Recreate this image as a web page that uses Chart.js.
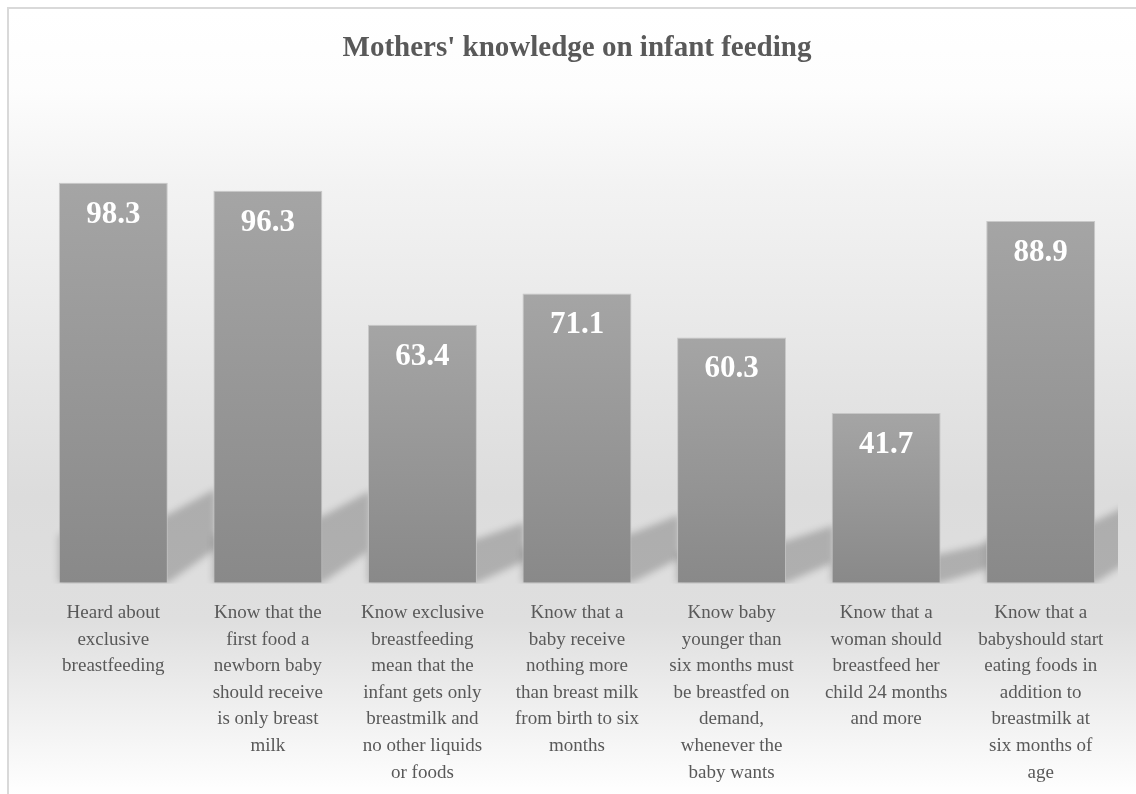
<!DOCTYPE html>
<html>
<head>
<meta charset="utf-8">
<title>Mothers' knowledge on infant feeding</title>
<script src="https://cdn.jsdelivr.net/npm/chart.js@4"></script>
<style>
    html, body { margin: 0; padding: 0; background: #ffffff; }
    #wrap { width: 1136px; height: 794px; position: relative; }
</style>
</head>
<body>
<div id="wrap"><canvas id="knowChart"></canvas></div>
<script>
// chart data
const chartTitle = "Mothers' knowledge on infant feeding";

const categories = [
    ['Heard about', 'exclusive', 'breastfeeding'],
    ['Know that the', 'first food a', 'newborn baby', 'should receive', 'is only breast', 'milk'],
    ['Know exclusive', 'breastfeeding', 'mean that the', 'infant gets only', 'breastmilk and', 'no other liquids', 'or foods'],
    ['Know that a', 'baby receive', 'nothing more', 'than breast milk', 'from birth to six', 'months'],
    ['Know baby', 'younger than', 'six months must', 'be breastfed on', 'demand,', 'whenever the', 'baby wants'],
    ['Know that a', 'woman should', 'breastfeed her', 'child 24 months', 'and more'],
    ['Know that a', 'babyshould start', 'eating foods in', 'addition to', 'breastmilk at', 'six months of', 'age']
];

const percentValues = [98.3, 96.3, 63.4, 71.1, 60.3, 41.7, 88.9];

const FONT = "'Liberation Serif', 'Times New Roman', serif";

// background, frame and bar shadows
const backdropPlugin = {
    id: 'backdrop',
    beforeDraw(chart) {
        const { ctx, width, height } = chart;
        ctx.save();
        ctx.fillStyle = '#ffffff';
        ctx.fillRect(0, 0, width, height);
        const g = ctx.createLinearGradient(0, 9, 0, height);
        g.addColorStop(0, '#ffffff');
        g.addColorStop(0.1, '#fdfdfd');
        g.addColorStop(0.22, '#f3f3f3');
        g.addColorStop(0.62, '#dcdcdc');
        g.addColorStop(0.78, '#dfdfdf');
        g.addColorStop(1, '#ffffff');
        ctx.fillStyle = g;
        ctx.fillRect(9, 9, width - 9, height - 9);
        ctx.strokeStyle = '#d9d9d9';
        ctx.lineWidth = 2;
        ctx.beginPath();
        ctx.moveTo(8, height);
        ctx.lineTo(8, 8);
        ctx.lineTo(width, 8);
        ctx.stroke();
        ctx.restore();
    },
    beforeDatasetsDraw(chart) {
        const { ctx, chartArea } = chart;
        const meta = chart.getDatasetMeta(0);
        ctx.save();
        ctx.beginPath();
        ctx.rect(chartArea.left, 0, chartArea.right - chartArea.left, chartArea.bottom + 1);
        ctx.clip();
        ctx.filter = 'blur(3.5px)';
        ctx.fillStyle = 'rgba(0, 0, 0, 0.21)';
        meta.data.forEach(bar => {
            const h = bar.base - bar.y;
            const x0 = bar.x - bar.width / 2;
            const x1 = bar.x + bar.width / 2;
            const dx = 48;
            ctx.beginPath();
            ctx.moveTo(x0, bar.base);
            ctx.lineTo(x1, bar.base);
            ctx.lineTo(x1 + dx, bar.base - h * 0.085);
            ctx.lineTo(x1 + dx, bar.base - h * 0.235);
            ctx.lineTo(x1, bar.base - h * 0.17);
            ctx.lineTo(x0, bar.base - h * 0.12);
            ctx.closePath();
            ctx.fill();
        });
        ctx.restore();
    }
};

// values inside the top of each bar
const valueLabelPlugin = {
    id: 'valueLabels',
    afterDatasetsDraw(chart) {
        const { ctx } = chart;
        const meta = chart.getDatasetMeta(0);
        ctx.save();
        ctx.fillStyle = '#ffffff';
        ctx.font = 'bold 31px ' + FONT;
        ctx.textAlign = 'center';
        ctx.textBaseline = 'middle';
        meta.data.forEach((bar, i) => {
            ctx.fillText(percentValues[i].toFixed(1), bar.x, bar.y + 32);
        });
        ctx.restore();
    }
};

function barGradient(context) {
    const chart = context.chart;
    const yScale = chart.scales.y;
    if (!yScale || context.raw === undefined) return '#999999';
    const top = yScale.getPixelForValue(context.raw);
    const base = yScale.getPixelForValue(0);
    if (!isFinite(top) || !isFinite(base)) return '#999999';
    const g = chart.ctx.createLinearGradient(0, top, 0, base);
    g.addColorStop(0, '#a5a5a5');
    g.addColorStop(1, '#898989');
    return g;
}

new Chart(document.getElementById('knowChart'), {
    type: 'bar',
    data: {
        labels: categories,
        datasets: [{
            label: 'Percent',
            data: percentValues,
            backgroundColor: barGradient,
            borderColor: 'rgba(196, 196, 196, 0.9)',
            borderWidth: 1,
            borderSkipped: 'bottom',
            categoryPercentage: 1,
            barPercentage: 0.705
        }]
    },
    options: {
        responsive: true,
        maintainAspectRatio: false,
        animation: false,
        layout: {
            padding: { left: 36, right: 18, top: 0, bottom: -1 }
        },
        plugins: {
            legend: { display: false },
            tooltip: { enabled: false },
            title: {
                display: true,
                text: chartTitle,
                color: '#595959',
                font: { family: FONT, size: 29, weight: 'bold', lineHeight: 1.2 },
                padding: { top: 31, bottom: 110 }
            }
        },
        scales: {
            x: {
                grid: { display: false },
                border: { display: false },
                ticks: {
                    color: '#595959',
                    font: { family: FONT, size: 19, lineHeight: 1.4 },
                    padding: 9,
                    maxRotation: 0,
                    autoSkip: false
                }
            },
            y: {
                display: false,
                min: 0,
                max: 100
            }
        }
    },
    plugins: [backdropPlugin, valueLabelPlugin]
});
</script>
</body>
</html>
